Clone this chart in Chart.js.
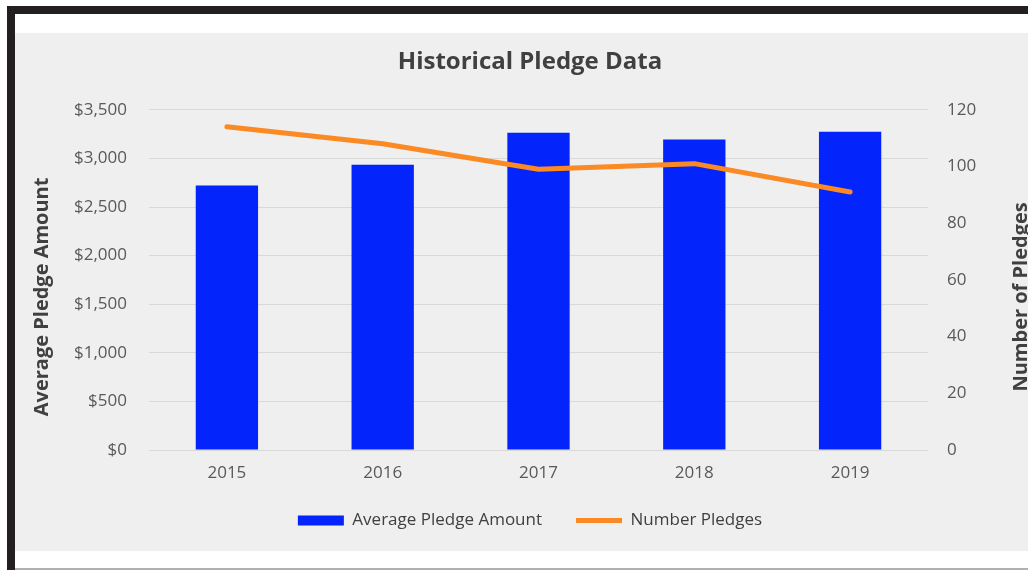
<!DOCTYPE html>
<html>
<head>
<meta charset="utf-8">
<title>Historical Pledge Data</title>
<script src="https://cdn.jsdelivr.net/npm/chart.js@4/dist/chart.umd.min.js"></script>
<style>
  html, body { margin: 0; padding: 0; background: #fff; overflow: hidden; }
  body { width: 1028px; height: 570px; position: relative; }
  .bar-top { position: absolute; left: 7px; top: 6px; right: 0; height: 8px; background: #231f20; }
  .bar-left { position: absolute; left: 7px; top: 6px; width: 8px; height: 570px; background: #231f20; }
  .rule { position: absolute; left: 15px; right: 0; top: 568px; height: 2px; background: #b0b0b0; }
  #panel { position: absolute; left: 15px; top: 33px; width: 1030px; height: 518px; background: #efefef; }
</style>
</head>
<body>
<div class="bar-top"></div>
<div class="bar-left"></div>
<div class="rule"></div>
<div id="panel"><canvas id="chart" width="1030" height="518"></canvas></div>
<script>
const years = ["2015", "2016", "2017", "2018", "2019"];
const avgPledge = [2720, 2935, 3264, 3195, 3274];
const numPledges = [114, 108, 99, 101, 91];
const leftTitle = "Average Pledge Amount";
const rightTitle = "Number of Pledges";

const font = "'Open Sans', sans-serif";

// axis titles drawn bottom-to-top on both sides, like the original
const axisTitles = {
  id: "axisTitles",
  afterLayout(chart) {
    // pull the legend up a bit, its padding also sets the gap between items
    const lg = chart.legend;
    lg.top -= 8;
    lg.bottom -= 8;
  },
  afterDraw(chart) {
    const ctx = chart.ctx;
    const a = chart.chartArea;
    const cy = (a.top + a.bottom) / 2 + 17;
    ctx.save();
    ctx.fillStyle = "#404040";
    ctx.font = "bold 20px " + font;
    ctx.textAlign = "center";
    ctx.textBaseline = "middle";
    [[27, leftTitle], [1006, rightTitle]].forEach(([x, t]) => {
      ctx.save();
      ctx.translate(x, cy);
      ctx.rotate(-Math.PI / 2);
      ctx.fillText(t, 0, 0);
      ctx.restore();
    });
    ctx.restore();
  }
};

new Chart(document.getElementById("chart"), {
  data: {
    labels: years,
    datasets: [
      {
        type: "bar",
        label: "Average Pledge Amount",
        data: avgPledge,
        backgroundColor: "#0324fa",
        borderWidth: 0,
        barPercentage: 0.4,
        categoryPercentage: 1,
        yAxisID: "y",
        pointStyle: "rect",
        order: 2
      },
      {
        type: "line",
        label: "Number Pledges",
        data: numPledges,
        borderColor: "#fb8a24",
        backgroundColor: "#fb8a24",
        borderWidth: 5,
        borderCapStyle: "round",
        borderJoinStyle: "round",
        pointRadius: 0,
        pointStyle: "line",
        tension: 0,
        yAxisID: "y1",
        order: 1
      }
    ]
  },
  options: {
    responsive: false,
    animation: false,
    layout: { padding: { top: 0, bottom: 4, left: 0, right: 0 } },
    plugins: {
      title: {
        display: true,
        text: "Historical Pledge Data",
        color: "#404040",
        font: { family: font, size: 24, weight: "bold" },
        padding: { top: 15, bottom: 33 }
      },
      legend: {
        position: "bottom",
        labels: {
          color: "#404040",
          font: { family: font, size: 17 },
          usePointStyle: true,
          pointStyleWidth: 46,
          boxHeight: 10,
          padding: 34,
          sort: (a, b) => a.datasetIndex - b.datasetIndex
        }
      },
      tooltip: { enabled: false }
    },
    scales: {
      x: {
        grid: { display: false, drawTicks: false },
        border: { display: false },
        ticks: { color: "#595959", font: { family: font, size: 17 }, padding: 13 },
        afterFit(s) { s.height = 36; }
      },
      y: {
        position: "left",
        min: 0,
        max: 3500,
        grid: { color: "#d9d9d9", lineWidth: 1, drawTicks: false },
        border: { display: false },
        ticks: {
          stepSize: 500,
          color: "#595959",
          font: { family: font, size: 17 },
          padding: 22,
          callback: v => "$" + v.toLocaleString("en-US")
        },
        afterFit(s) { s.width = 134; }
      },
      y1: {
        position: "right",
        min: 0,
        max: 120,
        grid: { display: false, drawTicks: false },
        border: { display: false },
        ticks: {
          stepSize: 20,
          color: "#595959",
          font: { family: font, size: 17 },
          padding: 19
        },
        afterFit(s) { s.width = 117; }
      }
    }
  },
  plugins: [axisTitles]
});
</script>
</body>
</html>
